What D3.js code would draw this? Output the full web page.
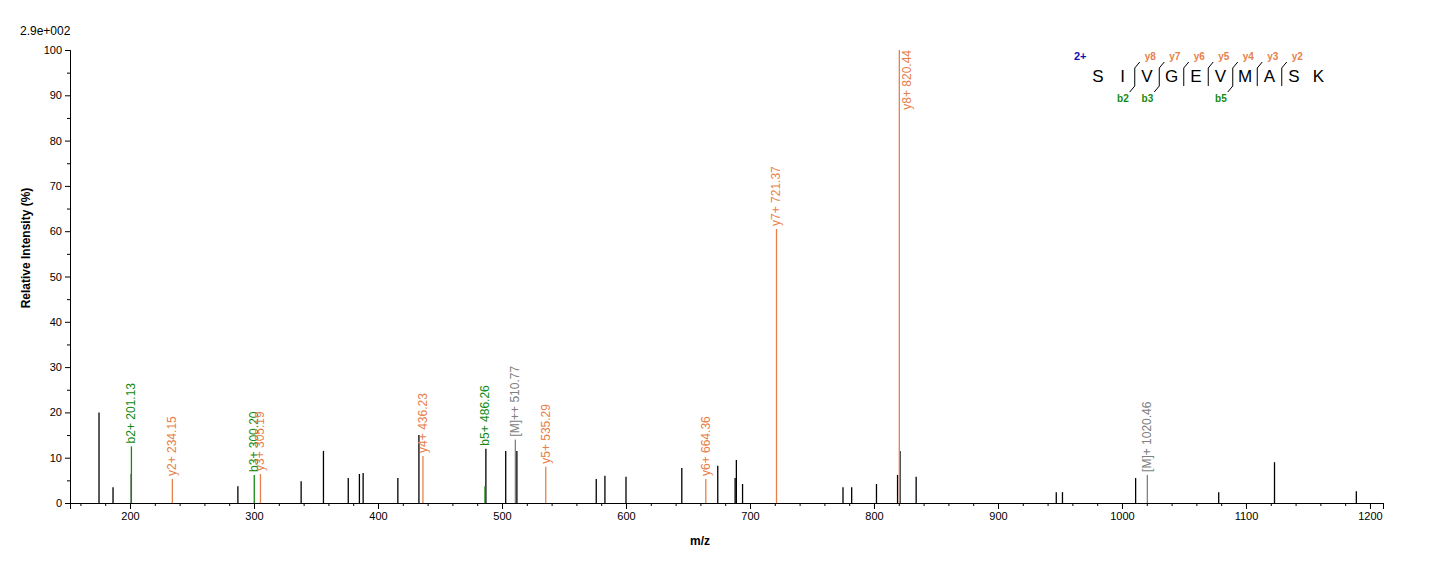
<!DOCTYPE html><html><head><meta charset="utf-8"><script src="https://d3js.org/d3.v7.min.js"></script>
<style>body{margin:0;background:#fff}text{font-family:Arial,"Liberation Sans",sans-serif}</style></head><body><svg id="c" width="1436" height="562"></svg><script>
const peaksMz=[175,186.3,201,287,338,356,376,385,388,416,433,487,503,512,576,583,600,645,674,688,689,694,775,782,802,819,821,834,947,952,1011,1078,1123,1189];
const peaksInt=[20,3.5,6.4,3.7,4.8,11.5,5.5,6.4,6.6,5.5,15,12,11.5,11.5,5.3,6,5.8,7.7,8.2,5.5,9.5,4.2,3.5,3.5,4.2,6.2,11.5,5.8,2.4,2.4,5.5,2.4,9,2.6];
const annMz=[201.13,234.15,300.20,305.19,436.23,486.26,510.77,535.29,664.36,721.37,820.44,1020.46];
const annInt=[12.5,5.3,6.2,6.4,10.4,3.7,14,8,5.3,60.5,100,6.2];
const annLabel=["b2+ 201.13","y2+ 234.15","b3+ 300.20","y3+ 305.19","y4+ 436.23","b5+ 486.26","[M]++ 510.77","y5+ 535.29","y6+ 664.36","y7+ 721.37","y8+ 820.44","[M]+ 1020.46"];
const annType=["b","y","b","y","y","b","m","y","y","y","y","m"];
const xTicks=[200,300,400,500,600,700,800,900,1000,1100,1200];
const yTicks=[0,10,20,30,40,50,60,70,80,90,100];
const seq=["S","I","V","G","E","V","M","A","S","K"];
const col={b:"#138a13",y:"#e8804a",m:"#808080"};
const svg=d3.select("#c");
const x=d3.scaleLinear().domain([151.6,1210.5]).range([70,1383]);
const y=d3.scaleLinear().domain([0,100]).range([503,50]);
svg.append("g").attr("transform","translate(0,503)").call(d3.axisBottom(x).tickValues(xTicks).tickSize(6).tickFormat(d3.format("d")));
svg.append("g").attr("transform","translate(0,503)").call(d3.axisBottom(x).tickValues(d3.range(160,1211,20)).tickSize(3).tickFormat(""));
svg.append("g").attr("transform","translate(70,0)").call(d3.axisLeft(y).tickValues(yTicks).tickSize(5));
svg.append("g").attr("transform","translate(70,0)").call(d3.axisLeft(y).tickValues(d3.range(5,100,10)).tickSize(3).tickFormat(""));
svg.selectAll(".tick text").attr("font-size",11);
svg.selectAll(".domain").attr("stroke","#000");
svg.append("text").attr("x",700).attr("y",545).attr("text-anchor","middle").attr("font-size",12).attr("font-weight","bold").text("m/z");
svg.append("text").attr("transform","translate(30,248) rotate(-90)").attr("text-anchor","middle").attr("font-size",12).attr("font-weight","bold").text("Relative   Intensity (%)");
svg.append("text").attr("x",20).attr("y",35).attr("font-size",12).text("2.9e+002");
svg.selectAll(".pk").data(peaksMz).join("line").attr("x1",d=>x(d)).attr("x2",d=>x(d)).attr("y1",y(0)).attr("y2",(d,i)=>y(peaksInt[i])).attr("stroke","#000").attr("stroke-width",1.3);
svg.selectAll(".an").data(annMz).join("line").attr("x1",d=>x(d)).attr("x2",d=>x(d)).attr("y1",y(0)).attr("y2",(d,i)=>y(annInt[i])).attr("stroke",(d,i)=>col[annType[i]]).attr("stroke-width",1.3);
function baseInt(d,i){let m=annInt[i];peaksMz.forEach((p,j)=>{if(Math.abs(p-d)<3)m=Math.max(m,peaksInt[j]);});return m;}
svg.selectAll(".al").data(annMz).join("text").attr("font-size",12).attr("fill",(d,i)=>col[annType[i]])
 .each(function(d,i){const t=d3.select(this).text(annLabel[i]);const top=y(baseInt(d,i));
   if(top<120){t.attr("text-anchor","end").attr("transform",`translate(${x(d)+12},${top}) rotate(-90)`);}
   else t.attr("transform",`translate(${x(d)+4},${top-3}) rotate(-90)`);});
const sx0=1098,dx=24.5,sy=82;
seq.forEach((s,i)=>svg.append("text").attr("x",sx0+i*dx).attr("y",sy).attr("text-anchor","middle").attr("font-size",17).text(s));
svg.append("text").attr("x",1074).attr("y",60).attr("font-size",11).attr("font-weight","bold").attr("fill","#1010b0").text("2+");
const yIons=["y8","y7","y6","y5","y4","y3","y2"];
yIons.forEach((t,k)=>{const i=k+2,bx=sx0+(i-0.5)*dx;
 svg.append("path").attr("d",`M${bx},${sy+4}V${sy-14}l5,-6`).attr("fill","none").attr("stroke","#000");
 svg.append("text").attr("x",bx+10).attr("y",60).attr("font-size",10).attr("font-weight","bold").attr("fill",col.y).text(t);});
[[2,"b2"],[3,"b3"],[6,"b5"]].forEach(([i,t])=>{const bx=sx0+(i-0.5)*dx;
 svg.append("path").attr("d",`M${bx-5},${sy+10}l5,-6`).attr("fill","none").attr("stroke","#000");
 svg.append("text").attr("x",bx-6).attr("y",sy+20).attr("text-anchor","end").attr("font-size",10).attr("font-weight","bold").attr("fill",col.b).text(t);});
</script></body></html>
